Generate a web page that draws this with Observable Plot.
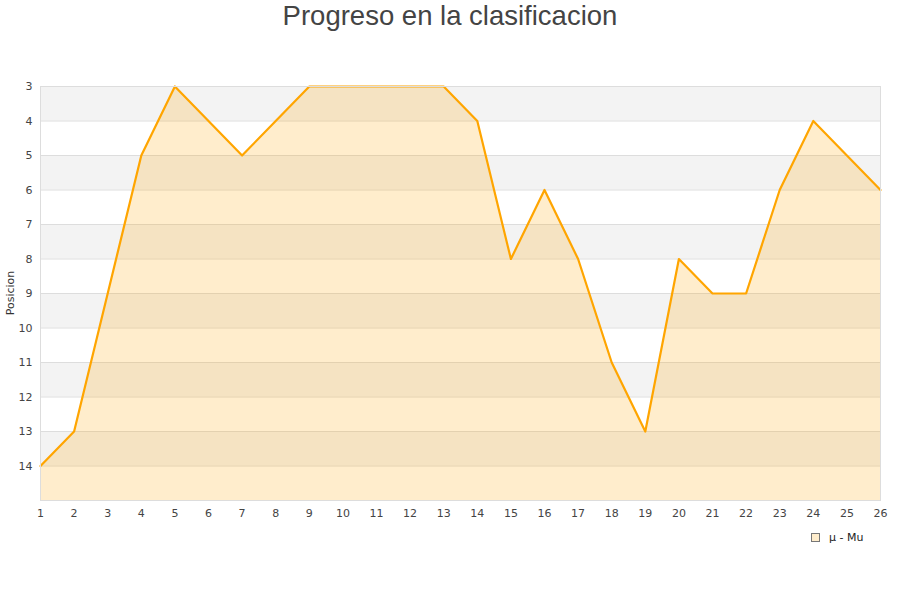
<!DOCTYPE html>
<html>
<head>
<meta charset="utf-8">
<script src="https://cdn.jsdelivr.net/npm/d3@7"></script>
<script src="https://cdn.jsdelivr.net/npm/@observablehq/plot@0.6"></script>
<style>
  body { margin: 0; background: #fff; font-family: "DejaVu Sans", sans-serif; }
  #wrap { position: relative; width: 900px; height: 600px; }
  #title { position: absolute; left: 0; top: 0; width: 900px; text-align: center; font-size: 27.5px; color: #444; font-family: "Liberation Sans", Arial, sans-serif; line-height: 32px; }
  #legend { position: absolute; left: 811px; top: 531px; font-size: 11px; color: #222; display: flex; align-items: center; }
  #legend .sw { width: 7px; height: 7px; border: 1px solid #777; background: #ffedcc; margin-right: 9px; }
  #ylabel { position: absolute; left: 4px; top: 293px; transform-origin: 0 0; transform: rotate(-90deg) translate(-50%, 0); font-size: 11px; color: #333; }
</style>
</head>
<body>
<div id="wrap">
  <div id="chart"></div>
  <div id="title">Progreso en la clasificacion</div>
  <div id="ylabel">Posicion</div>
  <div id="legend"><div class="sw"></div><span>μ - Mu</span></div>
</div>
<script>
const jornadas = [1,2,3,4,5,6,7,8,9,10,11,12,13,14,15,16,17,18,19,20,21,22,23,24,25,26];
const posiciones = [14,13,9,5,3,4,5,4,3,3,3,3,3,4,8,6,8,11,13,8,9,9,6,4,5,6];
const yTicks = [3,4,5,6,7,8,9,10,11,12,13,14];
const bandStarts = [3,5,7,9,11,13];
const bottomPos = 15;

const data = jornadas.map((j, i) => ({j, p: posiciones[i]}));
const bands = bandStarts.map(s => ({y1: s, y2: s + 1}));

const chart = Plot.plot({
  width: 900,
  height: 600,
  marginTop: 86,
  marginBottom: 100,
  marginLeft: 40,
  marginRight: 20,
  style: {fontFamily: "DejaVu Sans, sans-serif", fontSize: "11px", color: "#444", background: "transparent"},
  x: {domain: [1, 26], ticks: jornadas, tickSize: 0, tickPadding: 9, label: null, tickFormat: d => d},
  y: {domain: [3, bottomPos], reverse: true, ticks: yTicks, tickSize: 0, tickPadding: 8, label: null},
  marks: [
    Plot.rect(bands, {x1: 1, x2: 26, y1: "y1", y2: "y2", fill: "#f3f3f3"}),
    Plot.ruleY(yTicks, {stroke: "#dddddd", strokeWidth: 1}),
    Plot.areaY(data, {x: "j", y1: bottomPos, y2: "p", fill: "#ffa500", fillOpacity: 0.2}),
    Plot.line(data, {x: "j", y: "p", stroke: "#ffa500", strokeWidth: 2.2}),
    Plot.frame({stroke: "#dddddd"}),
    Plot.axisX({ticks: jornadas, tickSize: 0, tickPadding: 9, label: null, fill: "#444"}),
    Plot.axisY({ticks: yTicks, tickSize: 0, tickPadding: 8, label: null, fill: "#444"})
  ]
});
document.getElementById("chart").appendChild(chart);
</script>
</body>
</html>
